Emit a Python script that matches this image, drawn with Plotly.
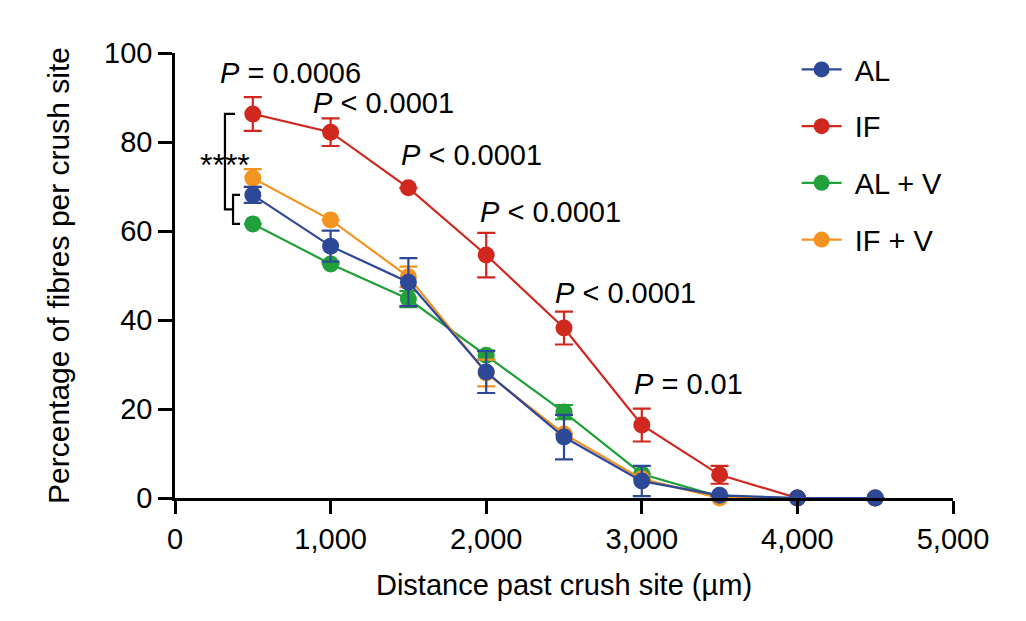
import plotly.graph_objects as go

distance = [500, 1000, 1500, 2000, 2500, 3000, 3500, 4000, 4500]

al_y = [68.1, 56.6, 48.5, 28.3, 13.7, 3.8, 0.6, 0.0, 0.0]
al_err = [1.8, 3.5, 5.4, 4.7, 5.0, 3.4, 0.0, 0.0, 0.0]

if_y = [86.3, 82.2, 69.7, 54.6, 38.2, 16.4, 5.2, 0.0, 0.0]
if_err = [3.8, 3.1, 0.0, 5.0, 3.7, 3.7, 2.0, 0.0, 0.0]

alv_y = [61.6, 52.6, 44.7, 32.1, 19.3, 5.4, 0.3, 0.0, 0.0]
alv_err = [0.0, 0.0, 1.8, 1.0, 1.6, 0.0, 0.0, 0.0, 0.0]

ifv_y = [71.9, 62.5, 49.7, 28.1, 14.4, 4.3, 0.0, 0.0, 0.0]
ifv_err = [2.0, 0.0, 2.3, 3.0, 0.0, 0.0, 0.0, 0.0, 0.0]

p_labels = ["<i>P</i> = 0.0006", "<i>P</i> < 0.0001", "<i>P</i> < 0.0001",
            "<i>P</i> < 0.0001", "<i>P</i> < 0.0001", "<i>P</i> = 0.01"]
p_x = [745, 1343, 1903, 2410, 2892, 3297]
p_y = [95.5, 88.8, 77.0, 64.3, 46.0, 25.6]

x_ticks = [0, 1000, 2000, 3000, 4000, 5000]
x_ticktext = ["0", "1,000", "2,000", "3,000", "4,000", "5,000"]
y_ticks = [0, 20, 40, 60, 80, 100]

FONT = "Liberation Sans, Arial, Helvetica, sans-serif"
FS = 29

series = [
    ("AL + V", alv_y, alv_err, "#22a03a", 3),
    ("IF + V", ifv_y, ifv_err, "#f39320", 4),
    ("IF", if_y, if_err, "#d0271f", 2),
    ("AL", al_y, al_err, "#2e4898", 1),
]

fig = go.Figure()
for name, ys, errs, color, rank in series:
    fig.add_trace(go.Scatter(
        x=distance, y=ys, name="\u00a0" + name, mode="lines+markers",
        line=dict(color=color, width=2.2),
        marker=dict(color=color, size=17),
        error_y=dict(type="data", array=errs, visible=True, color=color,
                     thickness=2.2, width=9),
        legendrank=rank, legendgroup=name, cliponaxis=False,
    ))

for txt, xx, yy in zip(p_labels, p_x, p_y):
    fig.add_annotation(x=xx, y=yy, text=txt, showarrow=False,
                       xanchor="center", yanchor="middle",
                       font=dict(family=FONT, size=FS, color="black"))

# significance brackets
big_top = if_y[0]
small_top = al_y[0]
small_bot = alv_y[0]
small_mid = (small_top + small_bot) / 2
bx1, bx1e = 321, 386
bx2, bx2e = 373, 418
line_style = dict(color="black", width=2.2)
fig.add_shape(type="path", xref="x", yref="y",
              path=f"M {bx1e},{big_top} L {bx1},{big_top} L {bx1},{small_mid} L {bx2},{small_mid}",
              line=line_style)
fig.add_shape(type="path", xref="x", yref="y",
              path=f"M {bx2e},{small_top} L {bx2},{small_top} L {bx2},{small_bot} L {bx2e},{small_bot}",
              line=line_style)
fig.add_annotation(x=bx1, y=(big_top + small_mid) / 2 - 0.8, text="****", showarrow=False,
                   xanchor="center", yanchor="middle",
                   font=dict(family=FONT, size=32, color="black"))

fig.update_layout(
    width=1026, height=621,
    margin=dict(l=167, r=81, t=45, b=131),
    paper_bgcolor="white", plot_bgcolor="white",
    font=dict(family=FONT, size=FS, color="black"),
    showlegend=True,
    legend=dict(x=0.799, y=1.02, xanchor="left", yanchor="top",
                font=dict(family=FONT, size=FS, color="black"),
                tracegroupgap=16, itemwidth=40, bgcolor="rgba(0,0,0,0)"),
    xaxis=dict(range=[0, 5000], tickvals=x_ticks, ticktext=x_ticktext,
               showline=True, linecolor="black", linewidth=2.5,
               ticks="outside", ticklen=13, tickwidth=2.5, tickcolor="black",
               showgrid=False, zeroline=False,
               title=dict(text="Distance past crush site (µm)", standoff=22,
                          font=dict(family=FONT, size=FS))),
    yaxis=dict(range=[0, 100], tickvals=y_ticks,
               showline=True, linecolor="black", linewidth=2.5,
               ticks="outside", ticklen=14, tickwidth=2.5, tickcolor="black",
               showgrid=False, zeroline=False,
               title=dict(text="Percentage of fibres per crush site", standoff=26,
                          font=dict(family=FONT, size=30))),
)

fig.write_html("out.html")
